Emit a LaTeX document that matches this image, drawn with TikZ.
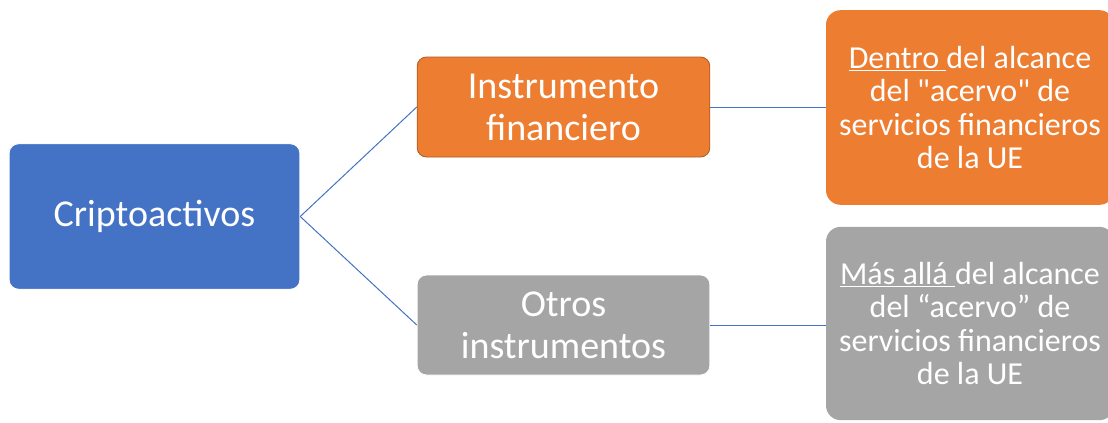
\documentclass[tikz,border=0pt]{standalone}
\usepackage{fontspec}
\setmainfont{Carlito}[Ligatures=TeXOff]
\usetikzlibrary{positioning}

\definecolor{cablue}{HTML}{4472C4}
\definecolor{caorange}{HTML}{ED7D31}
\definecolor{caorangedark}{HTML}{AE5A21}
\definecolor{cagray}{HTML}{A5A5A5}

\begin{document}
\begin{tikzpicture}[x=0.75pt, y=-0.75pt]
	\tikzset{
		box/.style={rounded corners=7pt, text=white, align=center, inner sep=0pt,
			line width=0.6pt, font=\fontsize{28.5}{31.5}\selectfont},
		scopebox/.style={rounded corners=11pt, text=white, align=center, inner sep=0pt,
			minimum width=216pt, font=\fontsize{24}{25}\selectfont},
		link/.style={cablue, line width=0.75pt}
	}
	\clip (0,0) rectangle (1108,422);

	\node (cripto) [box, fill=cablue, draw=white, minimum width=218pt, minimum height=109pt]
		at (154.5,216.5) {Criptoactivos};

	\node (inst)  [box, fill=caorange, draw=caorangedark, minimum width=219.5pt, minimum height=75pt]
		at (563.5,107) {Instrumento\\financiero};
	\node (otros) [box, fill=cagray, draw=white, minimum width=219.5pt, minimum height=75pt]
		at (563.5,325) {Otros\\instrumentos};

	\node (dentro) [scopebox, fill=caorange, minimum height=146pt] at (970,107.5)
		{\underline{Dentro }del alcance\\del "acervo" de\\servicios financieros\\de la UE};
	\node (mas)    [scopebox, fill=cagray, minimum height=145pt] at (970,323.5)
		{\underline{Más allá }del alcance\\del “acervo” de\\servicios financieros\\de la UE};

	\draw [link] (cripto.east) -- (inst.west);
	\draw [link] (cripto.east) -- (otros.west);
	\draw [link] (inst.east) -- (inst.east -| dentro.west);
	\draw [link] (otros.east) -- (otros.east -| mas.west);
\end{tikzpicture}
\end{document}
